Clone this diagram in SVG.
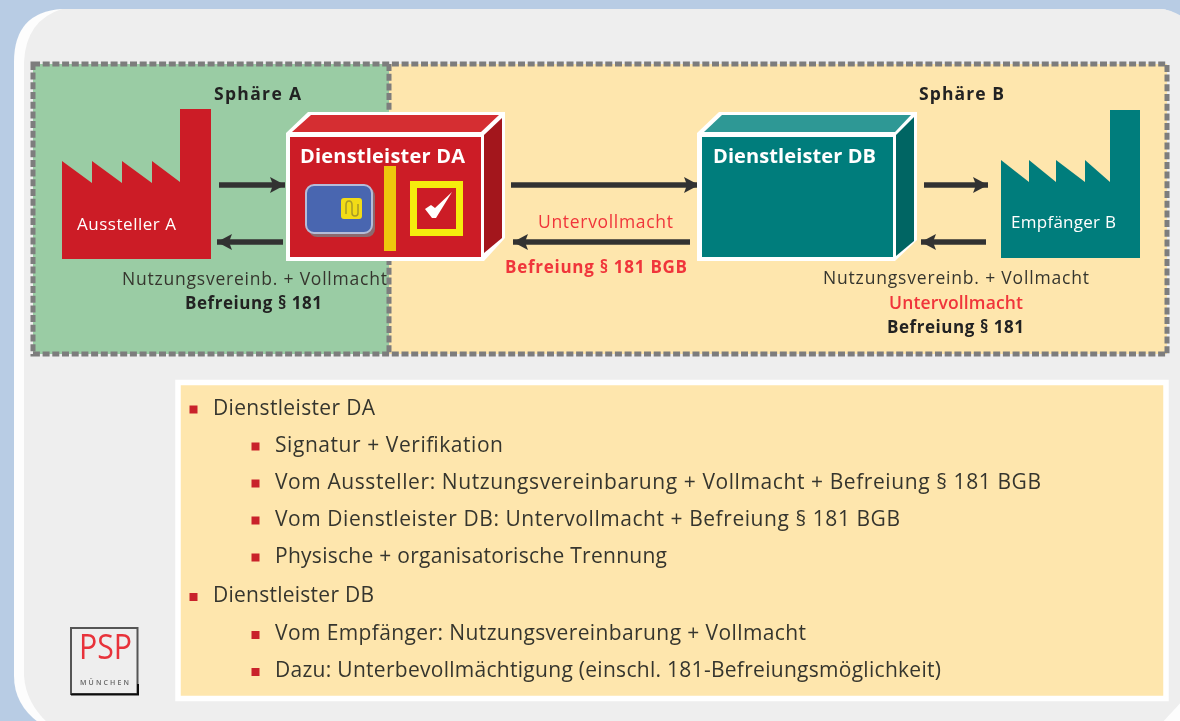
<svg xmlns="http://www.w3.org/2000/svg" width="1180" height="721" viewBox="0 0 1180 721">
<defs>
<style>
text{font-family:"Open Sans","Liberation Sans",sans-serif;fill:#36362e}
.b{font-weight:700;fill:#222}
.r{fill:#f0343a}
.w{fill:#fff}
.l{font-size:21px}
.s{font-size:17.5px}
.bul{fill:#c9202c}
.ar{stroke:#333;stroke-width:5.500;fill:none}
.dash{fill:none;stroke:#7d7d7d;stroke-width:5;stroke-dasharray:7 2.7}
</style>
<marker id="ah" markerUnits="userSpaceOnUse" markerWidth="16" markerHeight="18" refX="15" refY="9" orient="auto"><path d="M0 1L15 9L0 17L3 9Z" fill="#333"/></marker>
<filter id="soft" x="0" y="0" width="100%" height="100%"><feGaussianBlur stdDeviation="0.55"/></filter>
</defs>
<rect width="1180" height="721" fill="#b8cce4"/>
<g filter="url(#soft)">
<g id="panel">
<path d="M1180 18Q1170 9 1160 9H62Q14 12 14 62V676Q14 706 42 725H1176L1185 716Z" fill="#fdfdfd"/>
<path d="M1185 18Q1170 9 1160 9H62Q26 20 24 62V676Q26 704 50 725H1160L1185 698Z" fill="#eeeeee"/>
</g>
<rect x="33" y="64" width="356" height="290" fill="#9acca4"/>
<rect x="389" y="64" width="778" height="290" fill="#fee6ad"/>
<g id="sphere-borders">
<rect class="dash" x="33" y="64" width="1134" height="290"/>
<path class="dash" d="M389 64V354"/>
</g>
<text class="b" font-size="17.500" x="214" y="100" textLength="87">Sphäre A</text>
<text class="b" font-size="17.500" x="919" y="100" textLength="85">Sphäre B</text>
<g id="connectors">
<path class="ar" d="M219 185H285" marker-end="url(#ah)"/>
<path class="ar" d="M283 242H217" marker-end="url(#ah)"/>
<path class="ar" d="M511 185H699" marker-end="url(#ah)"/>
<path class="ar" d="M690 242H513" marker-end="url(#ah)"/>
<path class="ar" d="M924 185H988" marker-end="url(#ah)"/>
<path class="ar" d="M986 242H921" marker-end="url(#ah)"/>
</g>
<g id="aussteller-a">
<path d="M62 161L92 183V161L122 183V161L152 183V161L180 182V109H211V259H62Z" fill="#cc1e25"/>
<text class="w" font-size="17" x="77" y="230" textLength="99">Aussteller A</text>
</g>
<g id="dienstleister-da">
<path d="M286 133L308 112H505V238L484 261H286Z" fill="#fff"/>
<path d="M292 132L311 115H499L481 132Z" fill="#d52d32"/>
<path d="M484 135L502 118V238L484 253Z" fill="#a3161c"/>
<rect x="290" y="137" width="191" height="120" fill="#cc1e25"/>
<text class="w" font-weight="700" font-size="20" x="300" y="163" textLength="165">Dienstleister DA</text>
<rect x="309" y="188" width="66" height="49" rx="8" fill="#8a6a70"/>
<rect x="306" y="185" width="66" height="48" rx="8" fill="#4a66b0" stroke="#b4bcd8" stroke-width="2"/>
<rect x="341" y="198" width="21" height="21" rx="3" fill="#f2dc15"/>
<path d="M346 214V205Q346 201 349 201Q352 201 352 205V213Q352 216 355 216Q358 216 358 213V204" fill="none" stroke="#a89a28" stroke-width="1.500"/>
<rect x="384" y="166" width="12" height="85" fill="#eec60a"/>
<rect x="413.500" y="184.500" width="46" height="48" fill="none" stroke="#f5ec0a" stroke-width="7"/>
<path d="M425 209L431 205L435 208L452 192L436 218H432Z" fill="#fff"/>
</g>
<g id="dienstleister-db">
<path d="M697 133L719 112H917V240L895 261H697Z" fill="#fff"/>
<path d="M704 132L722 115H911L895 132Z" fill="#2d9895"/>
<path d="M896 135L914 117V241L896 256Z" fill="#066563"/>
<rect x="702" y="137" width="191" height="120" fill="#067d7c"/>
<text class="w" font-weight="700" font-size="20" x="713" y="163" textLength="163">Dienstleister DB</text>
</g>
<g id="empfaenger-b">
<path d="M1001 160L1029 182V160L1056 182V160L1085 182V160L1110 182V110H1140V258H1001Z" fill="#067d7c"/>
<text class="w" font-size="17" x="1011" y="228" textLength="105">Empfänger B</text>
</g>
<text class="s" x="122" y="285" textLength="265">Nutzungsvereinb. + Vollmacht</text>
<text class="b" font-size="17" x="185" y="309" textLength="137">Befreiung § 181</text>
<text class="s r" x="538" y="228" textLength="135">Untervollmacht</text>
<text class="r" font-weight="700" font-size="17" x="505" y="273" textLength="182">Befreiung § 181 BGB</text>
<text class="s" x="823" y="284" textLength="266">Nutzungsvereinb. + Vollmacht</text>
<text class="s r" font-weight="600" x="889" y="309" textLength="134">Untervollmacht</text>
<text class="b" font-size="17" x="887" y="333" textLength="137">Befreiung § 181</text>
<g id="info-box">
<rect x="178" y="382.500" width="988" height="316" fill="#fee6ad" stroke="#fff" stroke-width="5.500"/>
<rect class="bul" x="189.500" y="405.500" width="8" height="8"/>
<text class="l" x="213" y="415" textLength="162">Dienstleister DA</text>
<rect class="bul" x="251.500" y="442.500" width="8" height="8"/>
<text class="l" x="275" y="452" textLength="228">Signatur + Verifikation</text>
<rect class="bul" x="251.500" y="479.500" width="8" height="8"/>
<text class="l" x="275" y="489" textLength="766">Vom Aussteller: Nutzungsvereinbarung + Vollmacht + Befreiung § 181 BGB</text>
<rect class="bul" x="251.500" y="516.500" width="8" height="8"/>
<text class="l" x="275" y="526" textLength="625">Vom Dienstleister DB: Untervollmacht + Befreiung § 181 BGB</text>
<rect class="bul" x="251.500" y="553.500" width="8" height="8"/>
<text class="l" x="275" y="563" textLength="392">Physische + organisatorische Trennung</text>
<rect class="bul" x="189.500" y="593" width="8" height="8"/>
<text class="l" x="213" y="602" textLength="161">Dienstleister DB</text>
<rect class="bul" x="251.500" y="631" width="8" height="8"/>
<text class="l" x="275" y="640" textLength="531">Vom Empfänger: Nutzungsvereinbarung + Vollmacht</text>
<rect class="bul" x="251.500" y="668" width="8" height="8"/>
<text class="l" x="275" y="677" textLength="666">Dazu: Unterbevollmächtigung (einschl. 181-Befreiungsmöglichkeit)</text>
</g>
<g id="psp-logo">
<rect x="71" y="628" width="66.500" height="66" fill="#eeeeee" stroke="#555" stroke-width="2"/>
<path d="M71 694.500H138V684" fill="none" stroke="#111" stroke-width="2"/>
<text x="79" y="659" font-size="35" textLength="53" lengthAdjust="spacingAndGlyphs" style="fill:#e8333a">PSP</text>
<text x="80" y="685" font-size="7" font-weight="600" textLength="49" style="fill:#666">MÜNCHEN</text>
</g>
</g>
</svg>
